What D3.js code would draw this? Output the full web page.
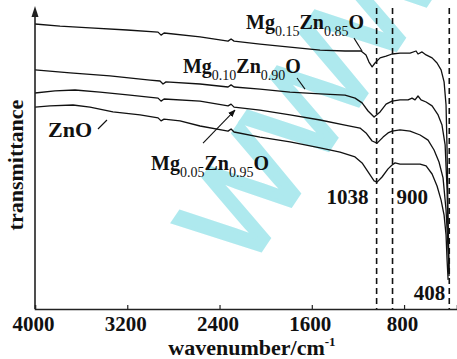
<!DOCTYPE html>
<html>
<head>
<meta charset="utf-8">
<script src="https://cdn.jsdelivr.net/npm/d3@7"></script>
<style>
  html, body { margin: 0; padding: 0; background: #ffffff; }
  svg { display: block; }
  text { font-family: "Liberation Serif", "Times New Roman", serif; }
</style>
</head>
<body>
<svg id="chart" width="457" height="359"></svg>
<script>
// ---------------- data (wavenumber cm^-1, transmittance a.u.) ----------------
const seriesNames = ["Mg0.15Zn0.85O", "Mg0.10Zn0.90O", "Mg0.05Zn0.95O", "ZnO"];

const mg015 = [[4000,95.0],[3783,94.3],[3523,93.7],[3202,93.0],[2933,92.3],[2907,91.3],[2881,92.0],[2569,90.7],[2326,89.3],[2300,90.0],[2274,89.3],[2049,88.3],[1789,87.3],[1528,86.3],[1312,86.0],[1173,86.0],[1130,84.7],[1104,82.3],[1077,80.7],[1052,82.0],[1008,83.7],[956,84.3],[904,85.0],[835,85.3],[748,85.3],[696,86.0],[679,85.0],[644,85.7],[609,84.7],[557,83.7],[514,82.0],[479,79.7],[453,75.7],[436,68.0],[427,53.0],[418,29.7],[410,12.3]];

const mg010 = [[4000,79.7],[3696,78.7],[3350,77.7],[3003,76.3],[2916,76.0],[2890,75.0],[2864,75.7],[2569,75.0],[2326,74.0],[2300,74.7],[2274,74.0],[2049,73.3],[1789,72.3],[1528,71.7],[1312,71.3],[1225,70.3],[1164,68.7],[1112,66.0],[1060,64.0],[1008,65.7],[956,68.3],[904,69.3],[835,69.7],[765,69.7],[731,70.3],[705,69.7],[679,71.0],[653,69.7],[609,69.0],[557,67.7],[505,64.7],[471,61.3],[444,54.7],[427,39.7],[418,23.0],[410,11.7]];

const mg005 = [[4000,72.0],[3827,72.7],[3653,73.0],[3436,72.3],[3176,71.3],[2933,70.3],[2907,69.3],[2881,70.0],[2569,69.3],[2326,67.7],[2300,68.3],[2274,67.3],[2049,66.3],[1789,64.7],[1528,63.0],[1312,61.3],[1182,60.3],[1130,58.7],[1077,56.0],[1034,55.3],[982,57.3],[939,58.7],[904,59.3],[835,59.7],[748,59.3],[661,58.0],[592,56.3],[540,53.0],[497,49.0],[462,43.7],[436,33.0],[418,19.7],[410,11.0]];

const zno = [[4000,67.3],[3870,67.7],[3670,68.0],[3523,67.3],[3324,65.7],[3089,64.7],[2933,63.7],[2907,62.7],[2881,63.3],[2743,62.7],[2569,61.0],[2326,59.3],[2300,60.0],[2274,59.0],[2049,57.3],[1789,55.7],[1528,53.7],[1355,52.3],[1225,50.7],[1164,48.7],[1112,45.7],[1060,42.7],[1034,42.3],[991,44.0],[939,46.7],[904,48.0],[878,48.7],[835,48.3],[748,48.3],[661,48.3],[609,47.7],[557,45.0],[514,41.0],[479,36.3],[453,31.3],[436,24.7],[427,16.3],[418,9.7]];

const xTickValues = [4000, 3200, 2400, 1600, 800];
const peakWavenumbers = [1038, 900, 408];
const peakLabels = ["1038", "900", "408"];

// ---------------- layout ----------------
const svg = d3.select("#chart");
const x = d3.scaleLinear().domain([4000, 341]).range([35, 457]);
const y = d3.scaleLinear().domain([0, 100]).range([309, 9]);

// watermark
svg.append("text")
  .attr("transform", "translate(246,272) rotate(-56)")
  .style("font-family", "'Liberation Sans', Arial, sans-serif")
  .attr("font-weight", "normal")
  .attr("font-size", 128)
  .attr("fill", "#aee9ee")
  .attr("stroke", "#aee9ee").attr("stroke-width", 4).attr("stroke-linejoin", "miter")
  .text("WWW");

// dashed reference lines
svg.append("g").selectAll("line").data(peakWavenumbers).join("line")
  .attr("x1", d => x(d)).attr("x2", d => x(d))
  .attr("y1", 8).attr("y2", 309)
  .attr("stroke", "#111").attr("stroke-width", 1.6)
  .attr("stroke-dasharray", "6,4");

// curves
const line = d3.line().x(d => x(d[0])).y(d => y(d[1]));
svg.append("g").selectAll("path").data([mg015, mg010, mg005, zno]).join("path")
  .attr("d", line)
  .attr("fill", "none").attr("stroke", "#111").attr("stroke-width", 1.3)
  .attr("stroke-linejoin", "round");

// x axis
const xAxis = d3.axisBottom(x).tickValues(xTickValues).tickSize(-4).tickFormat(d3.format("d"));
const gx = svg.append("g").attr("transform", "translate(0,309)").call(xAxis);
gx.select(".domain").attr("stroke", "#222").attr("stroke-width", 1.6);
gx.selectAll(".tick line").attr("stroke", "#222").attr("stroke-width", 1.2);
gx.selectAll(".tick").filter(d => d === 4000).select("line").remove();
gx.selectAll(".tick text")
  .attr("y", 0).attr("dy", 22).attr("dx", -2)
  .attr("fill", "#111")
  .style("font-family", "'Liberation Serif', 'Times New Roman', serif")
  .attr("font-size", 21).attr("font-weight", "bold");

// y axis with arrow
svg.append("line").attr("x1", 35).attr("x2", 35).attr("y1", 309).attr("y2", 14)
  .attr("stroke", "#222").attr("stroke-width", 1.6);
svg.append("path")
  .attr("d", d3.line()([[35, 6], [31.5, 17], [38.5, 17]]) + "Z")
  .attr("fill", "#222");

// axis titles
const xt = svg.append("text").attr("x", 252).attr("y", 355)
  .attr("text-anchor", "middle").attr("font-size", 22).attr("font-weight", "bold").attr("fill", "#111");
xt.append("tspan").text("wavenumber/cm");
xt.append("tspan").attr("font-size", 13).attr("dy", -9).text("-1");

svg.append("text")
  .attr("transform", "translate(23,165) rotate(-90)")
  .attr("text-anchor", "middle").attr("font-size", 22).attr("font-weight", "bold").attr("fill", "#111")
  .text("transmittance");

// peak labels
svg.append("text").attr("x", x(1038) - 8).attr("y", 204).attr("text-anchor", "end")
  .attr("font-size", 21).attr("font-weight", "bold").attr("fill", "#111").text(peakLabels[0]);
svg.append("text").attr("x", x(900) + 4).attr("y", 204).attr("text-anchor", "start")
  .attr("font-size", 21).attr("font-weight", "bold").attr("fill", "#111").text(peakLabels[1]);
svg.append("text").attr("x", x(408) - 4).attr("y", 300).attr("text-anchor", "end")
  .attr("font-size", 21).attr("font-weight", "bold").attr("fill", "#111").text(peakLabels[2]);

// sample labels (positions in data coordinates)
function formula(parts, wn, t, size) {
  const tx = svg.append("text").attr("x", x(wn)).attr("y", y(t))
    .attr("font-size", size).attr("font-weight", "bold").attr("fill", "#111");
  let sub = false;
  parts.forEach(p => {
    const isSub = /^[0-9.]+$/.test(p);
    const ts = tx.append("tspan").text(p);
    if (isSub) {
      ts.attr("font-size", 14).attr("font-weight", "normal").attr("dy", sub ? 0 : 7);
      sub = true;
    } else {
      ts.attr("dy", sub ? -7 : 0);
      sub = false;
    }
  });
}
formula(["Mg", "0.15", "Zn", "0.85", "O"], 2170, 93.3, 20);
formula(["Mg", "0.10", "Zn", "0.90", "O"], 2717, 78.7, 20);
formula(["Mg", "0.05", "Zn", "0.95", "O"], 2994, 46.3, 20);
formula(["ZnO"], 3887, 57.3, 22);

// leader lines
const leaders = [
  [[1234, 90.3], [1164, 86.0]],
  [[1728, 77.0], [1659, 73.3]],
  [[3454, 60.0], [3376, 63.0]]
];
svg.append("g").selectAll("path").data(leaders).join("path")
  .attr("d", d => d3.line()(d.map(p => [x(p[0]), y(p[1])])))
  .attr("stroke", "#111").attr("stroke-width", 1.1).attr("fill", "none");

// arrow for Mg0.05Zn0.95O
svg.append("defs").append("marker").attr("id", "ah")
  .attr("viewBox", "0 0 10 10").attr("refX", 9).attr("refY", 5)
  .attr("markerWidth", 7).attr("markerHeight", 7).attr("orient", "auto")
  .append("path").attr("d", "M0,1 L10,5 L0,9 Z").attr("fill", "#111");
svg.append("path")
  .attr("d", d3.line()([[x(2543), y(55.3)], [x(2266), y(66.3)]]))
  .attr("stroke", "#111").attr("stroke-width", 1.1).attr("marker-end", "url(#ah)");
</script>
</body>
</html>
